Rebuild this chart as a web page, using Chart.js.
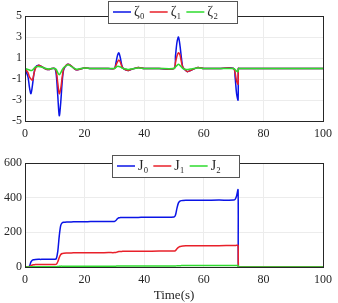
<!DOCTYPE html>
<html>
<head>
<meta charset="utf-8">
<script src="https://cdn.jsdelivr.net/npm/chart.js@4"></script>
<style>
  html, body { margin: 0; padding: 0; background: #fff; }
  .box { position: relative; width: 338px; }
  canvas { display: block; }
</style>
</head>
<body>
<div class="box" style="height:150px"><canvas id="top"></canvas></div>
<div class="box" style="height:153px"><canvas id="bot"></canvas></div>
<script>
// time samples (s)
const time = [0, 1, 1.5, 2, 2.5, 3, 3.5, 4.5, 5.5, 7, 8, 9, 10, 10.5, 11, 11.5, 12, 12.5, 13, 14, 14.5, 15.5, 17, 18, 20, 22, 25, 28, 30, 30.5, 31, 31.5, 32, 32.5, 33, 34, 34.5, 35.5, 38, 40, 45, 50, 50.5, 51, 51.5, 52, 52.5, 53, 54, 54.5, 55.5, 58, 60, 65, 70, 70.5, 71, 71.5, 71.6, 72, 75, 80, 85, 90, 95, 100];

// sliding variables
const zeta0 = [0, -0.8, -1.8, -2.4, -1.6, -0.5, 0.1, 0.3, 0.2, -0.05, -0.1, 0, 0, -0.6, -2.6, -4.5, -3.2, -1.2, -0.1, 0.35, 0.4, 0.25, -0.1, -0.1, 0.05, 0, 0, 0, 0, 0.5, 1.2, 1.5, 1.0, 0.3, 0, -0.15, -0.2, -0.1, 0.1, 0, 0, 0, 1.2, 2.5, 3.0, 2.2, 1.0, 0.1, -0.2, -0.3, -0.2, 0.1, 0, 0, 0, -0.8, -2.4, -3.0, 0, 0, 0, 0, 0, 0, 0, 0];
const zeta1 = [0, -0.4, -0.8, -1.0, -1.1, -0.5, 0, 0.3, 0.2, -0.05, -0.1, 0, 0, -0.3, -1.4, -2.4, -1.9, -0.8, 0, 0.35, 0.4, 0.25, -0.1, -0.1, 0.05, 0, 0, 0, 0, 0.3, 0.6, 0.8, 0.6, 0.2, 0, -0.15, -0.2, -0.1, 0.1, 0, 0, 0, 0.6, 1.2, 1.5, 1.3, 0.6, 0.1, -0.2, -0.3, -0.2, 0.1, 0, 0, 0, -0.4, -1.2, -1.5, 0, 0, 0, 0, 0, 0, 0, 0];
const zeta2 = [0, -0.1, -0.15, -0.2, -0.15, 0, 0.15, 0.2, 0.15, 0, -0.05, 0, 0, -0.1, -0.4, -0.6, -0.4, -0.1, 0.1, 0.3, 0.35, 0.2, -0.05, -0.05, 0.05, 0, 0, 0, 0, 0.1, 0.2, 0.2, 0.15, 0.05, 0, -0.05, -0.1, -0.05, 0.05, 0, 0, 0, 0.15, 0.3, 0.4, 0.3, 0.15, 0, -0.1, -0.1, -0.05, 0.05, 0, 0, 0, -0.1, -0.25, -0.3, 0, 0, 0, 0, 0, 0, 0, 0];

// cost functions
const cost0 = [0, 0, 5, 30, 40, 42, 43, 44, 44, 45, 45, 45, 45, 48, 90, 180, 240, 255, 258, 260, 260, 260, 261, 261, 261, 262, 262, 263, 263, 268, 278, 284, 285, 286, 286, 286, 286, 286, 286, 287, 287, 288, 300, 340, 370, 380, 383, 384, 385, 385, 385, 385, 385, 386, 386, 390, 410, 445, 0, 0, 0, 0, 0, 0, 0, 0];
const cost1 = [0, 0, 2, 8, 12, 13, 14, 14, 15, 15, 15, 15, 15, 16, 30, 55, 72, 78, 80, 81, 81, 81, 82, 82, 82, 82, 82, 83, 83, 84, 87, 89, 90, 90, 91, 91, 91, 91, 91, 91, 92, 92, 95, 105, 113, 118, 120, 121, 122, 122, 122, 123, 123, 123, 124, 124, 125, 125, 0, 0, 0, 0, 0, 0, 0, 0];
const cost2 = [0, 0, 0.5, 1, 2, 2, 2, 2, 2, 2, 2, 2, 2, 2, 3, 4, 5, 5, 5, 5, 5, 5, 5, 5, 5, 5, 5, 5, 5, 5, 6, 6, 6, 6, 6, 6, 6, 6, 6, 6, 6, 6, 6, 7, 7, 7, 8, 8, 8, 8, 8, 8, 8, 8, 8, 8, 8, 8, 0, 0, 0, 0, 0, 0, 0, 0];

const zetaLabels = ['ζ₀', 'ζ₁', 'ζ₂'];
const costLabels = ['J₀', 'J₁', 'J₂'];
const colors = ['#0a14e6', '#e8202a', '#2edb2e'];
const xTicks = [0, 20, 40, 60, 80, 100];

const serif = "'Liberation Serif', 'DejaVu Serif', serif";
const ink = '#262626';

function pts(ys) {
  return time.map((t, i) => ({ x: t, y: ys[i] }));
}

// box outline + MATLAB style legend
const boxLegend = {
  id: 'boxLegend',
  afterDraw(chart, args, opts) {
    const { ctx, chartArea: a } = chart;
    ctx.save();
    ctx.strokeStyle = ink;
    ctx.lineWidth = 1;
    ctx.strokeRect(Math.round(a.left) + 0.5, Math.round(a.top) + 0.5,
      Math.round(a.right - a.left), Math.round(a.bottom - a.top));

    const x0 = opts.x, y0 = opts.y, w = opts.w, h = opts.h;
    ctx.fillStyle = '#fff';
    ctx.fillRect(x0, y0, w, h);
    ctx.strokeStyle = '#555';
    ctx.strokeRect(x0 + 0.5, y0 + 0.5, w, h);
    ctx.font = '14px ' + serif;
    ctx.textBaseline = 'middle';
    let x = x0 + 5;
    const cy = y0 + h / 2;
    chart.data.datasets.forEach(ds => {
      ctx.strokeStyle = ds.borderColor;
      ctx.lineWidth = 1.5;
      ctx.beginPath();
      ctx.moveTo(x, cy);
      ctx.lineTo(x + 18, cy);
      ctx.stroke();
      ctx.fillStyle = ink;
      ctx.fillText(ds.label, x + 21, cy);
      x += 21 + ctx.measureText(ds.label).width + 5;
    });
    ctx.restore();
  }
};

function makeChart(id, labels, series, yopts, pad, xHeight, xTitle, legendPos) {
  const datasets = series.map((s, i) => ({
    label: labels[i],
    data: pts(s),
    borderColor: colors[i],
    borderWidth: 1.5,
    pointRadius: 0,
    tension: 0.3,
    order: 3 - i
  }));
  return new Chart(document.getElementById(id), {
    type: 'line',
    data: { datasets },
    options: {
      responsive: true,
      maintainAspectRatio: false,
      animation: false,
      layout: { padding: pad },
      plugins: {
        legend: { display: false },
        tooltip: { enabled: false },
        boxLegend: legendPos
      },
      scales: {
        x: {
          type: 'linear',
          min: 0, max: 100,
          afterBuildTicks: ax => { ax.ticks = xTicks.map(v => ({ value: v })); },
          afterFit: ax => { ax.height = xHeight; },
          grid: { color: '#ececec', drawTicks: false },
          border: { color: ink },
          ticks: { color: ink, padding: 6, font: { family: serif, size: 12 } },
          title: xTitle ? { display: true, text: xTitle, color: ink, padding: 0,
                            font: { family: serif, size: 13 } } : { display: false }
        },
        y: Object.assign({
          grid: { color: '#ececec', drawTicks: false },
          border: { color: ink },
          afterFit: ax => { ax.width = 25; },
          ticks: { color: ink, padding: 3, font: { family: serif, size: 12 } }
        }, yopts)
      }
    },
    plugins: [boxLegend]
  });
}

makeChart('top', zetaLabels, [zeta0, zeta1, zeta2],
  { min: -5, max: 5, ticks: { color: ink, padding: 3, stepSize: 2, font: { family: serif, size: 12 } } },
  { left: 0, right: 15, top: 16, bottom: 0 }, 29, null,
  { x: 108, y: 1, w: 129, h: 22 });

makeChart('bot', costLabels, [cost0, cost1, cost2],
  { min: 0, max: 600, ticks: { color: ink, padding: 3, stepSize: 200, font: { family: serif, size: 12 } } },
  { left: 0, right: 15, top: 13, bottom: 0 }, 36, 'Time(s)',
  { x: 112, y: 5, w: 127, h: 22 });
</script>
</body>
</html>
